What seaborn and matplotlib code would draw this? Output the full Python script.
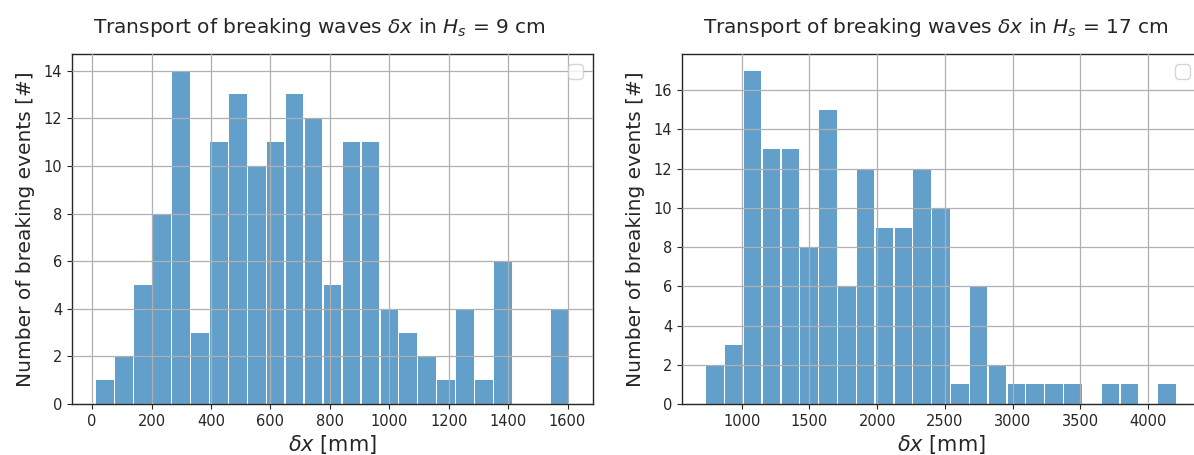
import numpy as np
import pandas as pd
import matplotlib
matplotlib.use("Agg")
import matplotlib.pyplot as plt
import seaborn as sns

# Histogram counts of breaking-wave transport distance, 25 equal bins each
counts_9cm = [1, 2, 5, 8, 14, 3, 11, 13, 10, 11, 13, 12, 5,
              11, 11, 4, 3, 2, 1, 4, 1, 6, 0, 0, 4]
range_9cm = (12, 1606)        # mm, outer bin edges

counts_17cm = [2, 3, 17, 13, 13, 8, 15, 6, 12, 9, 9, 12, 10,
               1, 6, 2, 1, 1, 1, 1, 0, 1, 1, 0, 1]
range_17cm = (733, 4210)      # mm, outer bin edges

titles = [r"Transport of breaking waves $\delta x$ in $H_s$ = 9 cm",
          r"Transport of breaking waves $\delta x$ in $H_s$ = 17 cm"]
xlabel = r"$\delta x$ [mm]"
ylabel = "Number of breaking events [#]"

sns.set_style("white")
plt.rcParams.update({
    "font.family": ["DejaVu Sans"],
    "axes.edgecolor": "#262626",
    "axes.linewidth": 1.0,
    "xtick.bottom": True,
    "ytick.left": True,
    "xtick.color": "#262626",
    "ytick.color": "#262626",
    "xtick.labelsize": 10.5,
    "ytick.labelsize": 10.5,
    "grid.color": "#b0b0b0",
    "grid.linewidth": 0.9,
    "axes.axisbelow": False,
})

fig = plt.figure(figsize=(11.94, 4.55), dpi=100)
W, H = 1194, 455
ax1 = fig.add_axes([72 / W, 1 - 404 / H, 521 / W, 350 / H])
ax2 = fig.add_axes([682 / W, 1 - 404 / H, 518 / W, 350 / H])

bar_color = "#1f77b4"
title_x = [0.474, 0.490]

panels = [(ax1, counts_9cm, range_9cm, titles[0]),
          (ax2, counts_17cm, range_17cm, titles[1])]
for i, (ax, counts, (lo, hi), title) in enumerate(panels):
    edges = np.linspace(lo, hi, len(counts) + 1).tolist()
    centers = [0.5 * (a + b) for a, b in zip(edges[:-1], edges[1:])]
    df = pd.DataFrame({"dx": centers, "n": counts})
    sns.histplot(data=df, x="dx", weights="n", bins=edges, ax=ax,
                 color=bar_color, alpha=0.7, linewidth=0, shrink=0.93)
    ax.set_xlim(lo - 0.05 * (hi - lo), hi + 0.05 * (hi - lo))
    ax.set_ylim(0, max(counts) * 1.05)
    ax.grid(True)
    ax.tick_params(axis="both", direction="out", length=3.5, width=0.8)
    ax.set_title(title, fontsize=14.5, pad=15, color="#262626", x=title_x[i])
    ax.set_xlabel(xlabel, fontsize=15, color="#262626", labelpad=3)
    ax.set_ylabel(ylabel, fontsize=14.5, color="#262626", labelpad=6)
    for s in ax.spines.values():
        s.set_visible(True)
    ax.legend(handles=[], loc="upper right", fontsize=14)

ax1.set_xticks(np.arange(0, 1601, 200))
ax1.set_yticks(np.arange(0, 15, 2))
ax2.set_xticks(np.arange(1000, 4001, 500))
ax2.set_yticks(np.arange(0, 17, 2))

fig.savefig("out.png", dpi=100)
